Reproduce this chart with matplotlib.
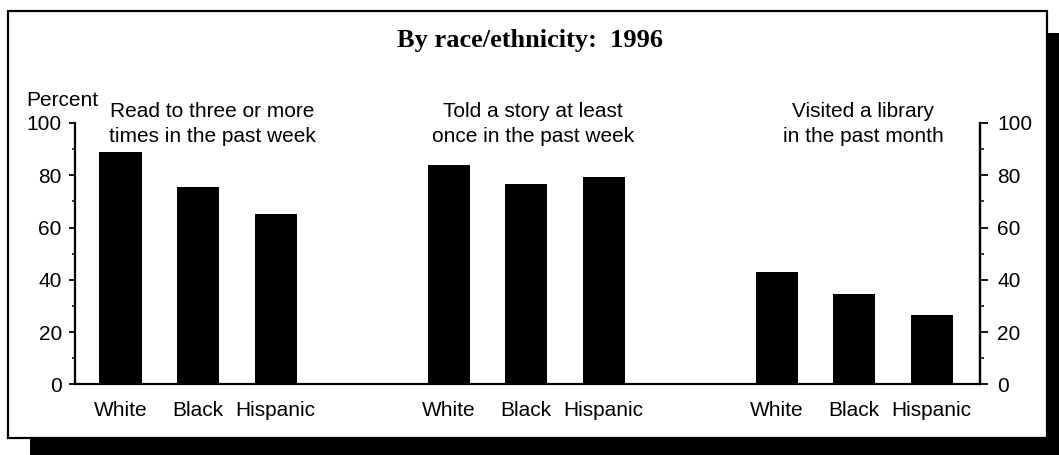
import matplotlib
matplotlib.use("Agg")
import matplotlib.pyplot as plt
from matplotlib.patches import Rectangle
from matplotlib.ticker import MultipleLocator

# ---- data ----
title = "By race/ethnicity:  1996"
groups = [
    ["Read to three or more", "times in the past week"],
    ["Told a story at least", "once in the past week"],
    ["Visited a library", "in the past month"],
]
categories = ["White", "Black", "Hispanic"]
read_to = [89, 75.5, 65]
told_story = [84, 76.5, 79.5]
visited_library = [42.8, 34.7, 26.5]
values = [read_to, told_story, visited_library]
yticks = [0, 20, 40, 60, 80, 100]

W, H = 1059, 455
fig = plt.figure(figsize=(W / 100, H / 100), dpi=100)
fig.patch.set_facecolor("white")

def px(x, y):
    return x / W, 1 - y / H

# shadow and frame
fig.patches.append(Rectangle(px(1047, 455), 12 / W, (455 - 33) / H, transform=fig.transFigure,
                             facecolor="black", edgecolor="none", zorder=0))
fig.patches.append(Rectangle(px(30, 455), (1059 - 30) / W, 17 / H, transform=fig.transFigure,
                             facecolor="black", edgecolor="none", zorder=0))
fig.patches.append(Rectangle(px(8, 438), (1047 - 8) / W, (438 - 11) / H, transform=fig.transFigure,
                             facecolor="white", edgecolor="black", linewidth=1.6, zorder=1))

left, right = 75, 980
top, bottom = 123, 384.3
ax = fig.add_axes([left / W, 1 - bottom / H, (right - left) / W, (bottom - top) / H])
ax.set_facecolor("none")
ax.set_zorder(2)

sans = "Liberation Sans"
fs = 15
group_centers = [198, 526, 854]
spacing = 77.5
bar_w = 42
label_x = [212, 533, 863]

xs_all, labels_all = [], []
for gi, vals in enumerate(values):
    xs = [group_centers[gi] + (i - 1) * spacing for i in range(len(vals))]
    ax.bar(xs, vals, width=bar_w, color="black", edgecolor="none")
    xs_all += xs
    labels_all += categories
    ax.text(label_x[gi], 104.4, groups[gi][0], ha="center", va="center",
            fontsize=fs, family=sans, clip_on=False)
    ax.text(label_x[gi], 94.8, groups[gi][1], ha="center", va="center",
            fontsize=fs, family=sans, clip_on=False)

ax.set_xlim(left, right)
ax.set_ylim(0, 100)
ax.set_xticks(xs_all)
ax.set_xticklabels(labels_all, fontsize=fs, family=sans)
ax.tick_params(axis="x", length=0, pad=12)

ax.set_yticks(yticks)
ax.yaxis.set_minor_locator(MultipleLocator(10))
ax.tick_params(axis="y", which="major", left=True, right=False, direction="out",
               length=4.5, width=1.3, labelsize=fs, pad=5)
ax.tick_params(axis="y", which="minor", left=True, right=False, direction="out", length=2.5, width=1.1)
for lab in ax.get_yticklabels():
    lab.set_family(sans)

# right-hand axis
ax2 = ax.twinx()
ax2.set_ylim(0, 100)
ax2.set_yticks(yticks)
ax2.yaxis.set_minor_locator(MultipleLocator(10))
ax2.tick_params(axis="y", which="major", direction="out", length=5.5, width=1.3, labelsize=fs, pad=7)
ax2.tick_params(axis="y", which="minor", direction="out", length=3, width=1.1)
for lab in ax2.get_yticklabels():
    lab.set_family(sans)
for s in ["left", "top", "bottom"]:
    ax2.spines[s].set_visible(False)
ax2.spines["right"].set_linewidth(1.6)

for s in ["left", "right", "bottom"]:
    ax.spines[s].set_linewidth(1.6)
ax.spines["top"].set_visible(False)

fig.text(*px(62, 101), "Percent", ha="center", va="center", fontsize=fs, family=sans)
fig.text(*px(530, 41), title, ha="center", va="center", fontsize=19, fontweight="bold",
         family="Liberation Serif")

fig.savefig("out.png", dpi=100)
